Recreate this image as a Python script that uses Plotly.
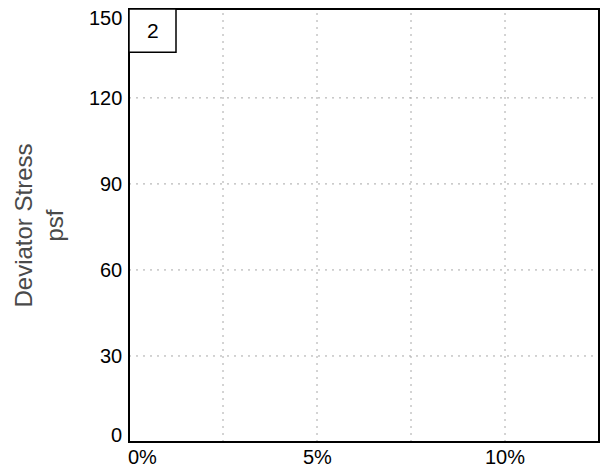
import plotly.graph_objects as go

x_tick_vals = [0, 0.05, 0.10]
x_tick_text = ["0%", "5%", "10%"]
x_grid_vals = [0.025, 0.05, 0.075, 0.10]
y_tick_vals = [0, 30, 60, 90, 120, 150]
y_grid_vals = [30, 60, 90, 120]
panel_label = "2"
y_title = "Deviator Stress<br>psf"

X_MAX = 0.125
Y_MAX = 151

fig = go.Figure()
fig.add_trace(go.Scatter(x=[None], y=[None], mode="markers", showlegend=False, hoverinfo="skip"))

grid_style = dict(color="#a8a8a8", width=1, dash="2px,5px")
for gx in x_grid_vals:
    fig.add_shape(type="line", xref="x", yref="y", x0=gx, x1=gx, y0=0, y1=Y_MAX, line=grid_style, layer="below")
for gy in y_grid_vals:
    fig.add_shape(type="line", xref="x", yref="y", x0=0, x1=X_MAX, y0=gy, y1=gy, line=grid_style, layer="below")

# plot frame
fig.add_shape(type="rect", xref="paper", yref="paper", x0=0, x1=1, y0=0, y1=1,
              line=dict(color="black", width=2), fillcolor="rgba(0,0,0,0)")

# panel label box
fig.add_shape(type="rect", xref="paper", yref="paper", x0=0, x1=0.1, y0=0.9, y1=1,
              line=dict(color="black", width=1.5), fillcolor="white")
fig.add_annotation(xref="paper", yref="paper", x=0.05, y=0.95, text=panel_label, showarrow=False,
                   xanchor="center", yanchor="middle",
                   font=dict(size=21, color="black", family="Liberation Sans"))

tick_font = dict(size=20, color="black", family="Liberation Sans")

# y tick labels (end labels nudged inward as in the reference)
for v in y_tick_vals:
    shift = 0
    if v == max(y_tick_vals):
        shift = -6
    elif v == min(y_tick_vals):
        shift = 7
    fig.add_annotation(xref="paper", yref="y", x=0, y=v, text=str(v), showarrow=False,
                       xanchor="right", yanchor="middle", xshift=-5, yshift=shift, font=tick_font)

# x tick labels (first label nudged right as in the reference)
for v, t in zip(x_tick_vals, x_tick_text):
    fig.add_annotation(xref="x", yref="paper", x=v, y=0, text=t, showarrow=False,
                       xanchor="center", yanchor="middle",
                       xshift=13 if v == 0 else 0, yshift=-15, font=tick_font)

# axis title
fig.add_annotation(xref="paper", yref="paper", x=0, y=0.5, text=y_title, showarrow=False,
                   textangle=-90, xanchor="center", yanchor="middle", xshift=-91,
                   font=dict(size=24, color="#4a4a4a", family="Liberation Sans"))

fig.update_xaxes(range=[0, X_MAX], showticklabels=False, showgrid=False,
                 zeroline=False, showline=False, ticks="")
fig.update_yaxes(range=[0, Y_MAX], showticklabels=False, showgrid=False, zeroline=False,
                 showline=False, ticks="")

fig.update_layout(width=592, height=456, plot_bgcolor="white", paper_bgcolor="white",
                  margin=dict(l=121, r=1, t=1, b=22, autoexpand=False), showlegend=False)

fig.write_html("out.html")
